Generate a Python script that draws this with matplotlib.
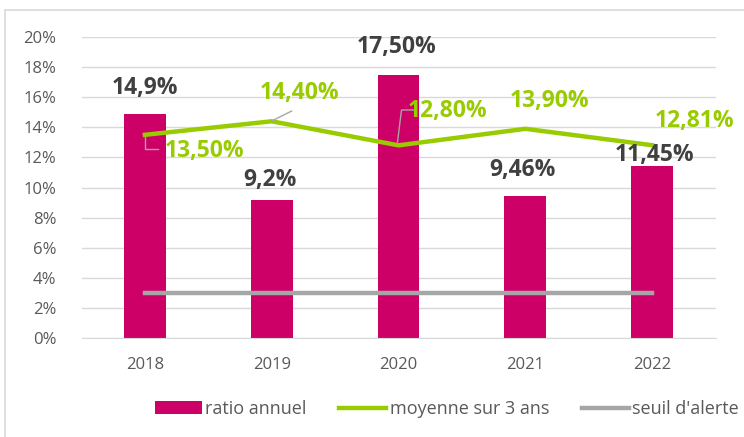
import matplotlib.pyplot as plt
from matplotlib.patches import Rectangle
import matplotlib.ticker as mticker

plt.rcParams['font.family'] = ['Open Sans', 'DejaVu Sans']

years = ['2018', '2019', '2020', '2021', '2022']
ratio = [14.9, 9.2, 17.5, 9.46, 11.45]
ratio_labels = ['14,9%', '9,2%', '17,50%', '9,46%', '11,45%']
moyenne = [13.5, 14.4, 12.8, 13.9, 12.81]
moyenne_labels = ['13,50%', '14,40%', '12,80%', '13,90%', '12,81%']
seuil = [3, 3, 3, 3, 3]

PINK = '#CC0066'
GREEN = '#99CC00'
GREY = '#A6A6A6'
DARK = '#404040'

W, H = 744, 437
fig = plt.figure(figsize=(W / 100, H / 100), dpi=100)
ax = fig.add_axes([81.5 / W, 1 - 338 / H, (715.5 - 81.5) / W, (338 - 37) / H])

# outer frame
fig.patches.append(Rectangle((5 / W, -0.1), 1.2, 1 - 10 / H + 0.1,
                             transform=fig.transFigure, fill=False,
                             edgecolor='#D9D9D9', lw=1.2))

x = list(range(len(years)))
bars = ax.bar(x, ratio, width=0.33, color=PINK, zorder=2)
l1, = ax.plot(x, moyenne, color=GREEN, lw=3.2, zorder=3)
l2, = ax.plot(x, seuil, color=GREY, lw=3.2, zorder=3)

ax.set_xlim(-0.5, 4.5)
ax.set_ylim(0, 20)
ax.set_xticks(x)
ax.set_xticklabels(years)
ax.yaxis.set_major_locator(mticker.MultipleLocator(2))
ax.yaxis.set_major_formatter(mticker.FuncFormatter(lambda v, p: f'{v:.0f}%'))
ax.grid(axis='y', color='#D9D9D9', lw=1, zorder=0)
for s in ['top', 'right', 'left']:
    ax.spines[s].set_visible(False)
ax.spines['bottom'].set_color('#D9D9D9')
ax.tick_params(axis='both', length=0, labelsize=12, labelcolor='#595959')
ax.tick_params(axis='y', pad=18)
ax.tick_params(axis='x', pad=14)


def px(xp, yp):
    return (xp - 145) / 127, (338 - yp) / 15.05


# bar labels
bar_pos = [(145, 88), (270, 180), (397, 47), (523, 170), (655, 155)]
for (xp, yp), t in zip(bar_pos, ratio_labels):
    ax.text(*px(xp, yp), t, ha='center', va='center', fontsize=16.5,
            fontweight='bold', color=DARK, zorder=5)

# line labels
line_pos = [(205, 151), (300, 93), (448, 111), (550, 101), (695, 121)]
for (xp, yp), t in zip(line_pos, moyenne_labels):
    ax.text(*px(xp, yp), t, ha='center', va='center', fontsize=16.5,
            fontweight='bold', color=GREEN, zorder=5)

# leader lines
leaders = [
    [(145, 137), (145, 149), (158, 149)],
    [(272, 121), (292, 111)],
    [(398, 142), (402, 110), (414, 110)],
]
for pts in leaders:
    xs, ys = zip(*[px(a, b) for a, b in pts])
    ax.plot(xs, ys, color=GREY, lw=1, zorder=4)

leg = fig.legend([bars, l1, l2], ['ratio annuel', 'moyenne sur 3 ans', "seuil d'alerte"],
                 loc='center', bbox_to_anchor=(447 / W, 1 - 409 / H), ncol=3,
                 frameon=False, fontsize=13, handlelength=2.6, handletextpad=0.2,
                 columnspacing=1.8, handleheight=0.7)
for t in leg.get_texts():
    t.set_color('#595959')

fig.savefig('out.png', dpi=100)
